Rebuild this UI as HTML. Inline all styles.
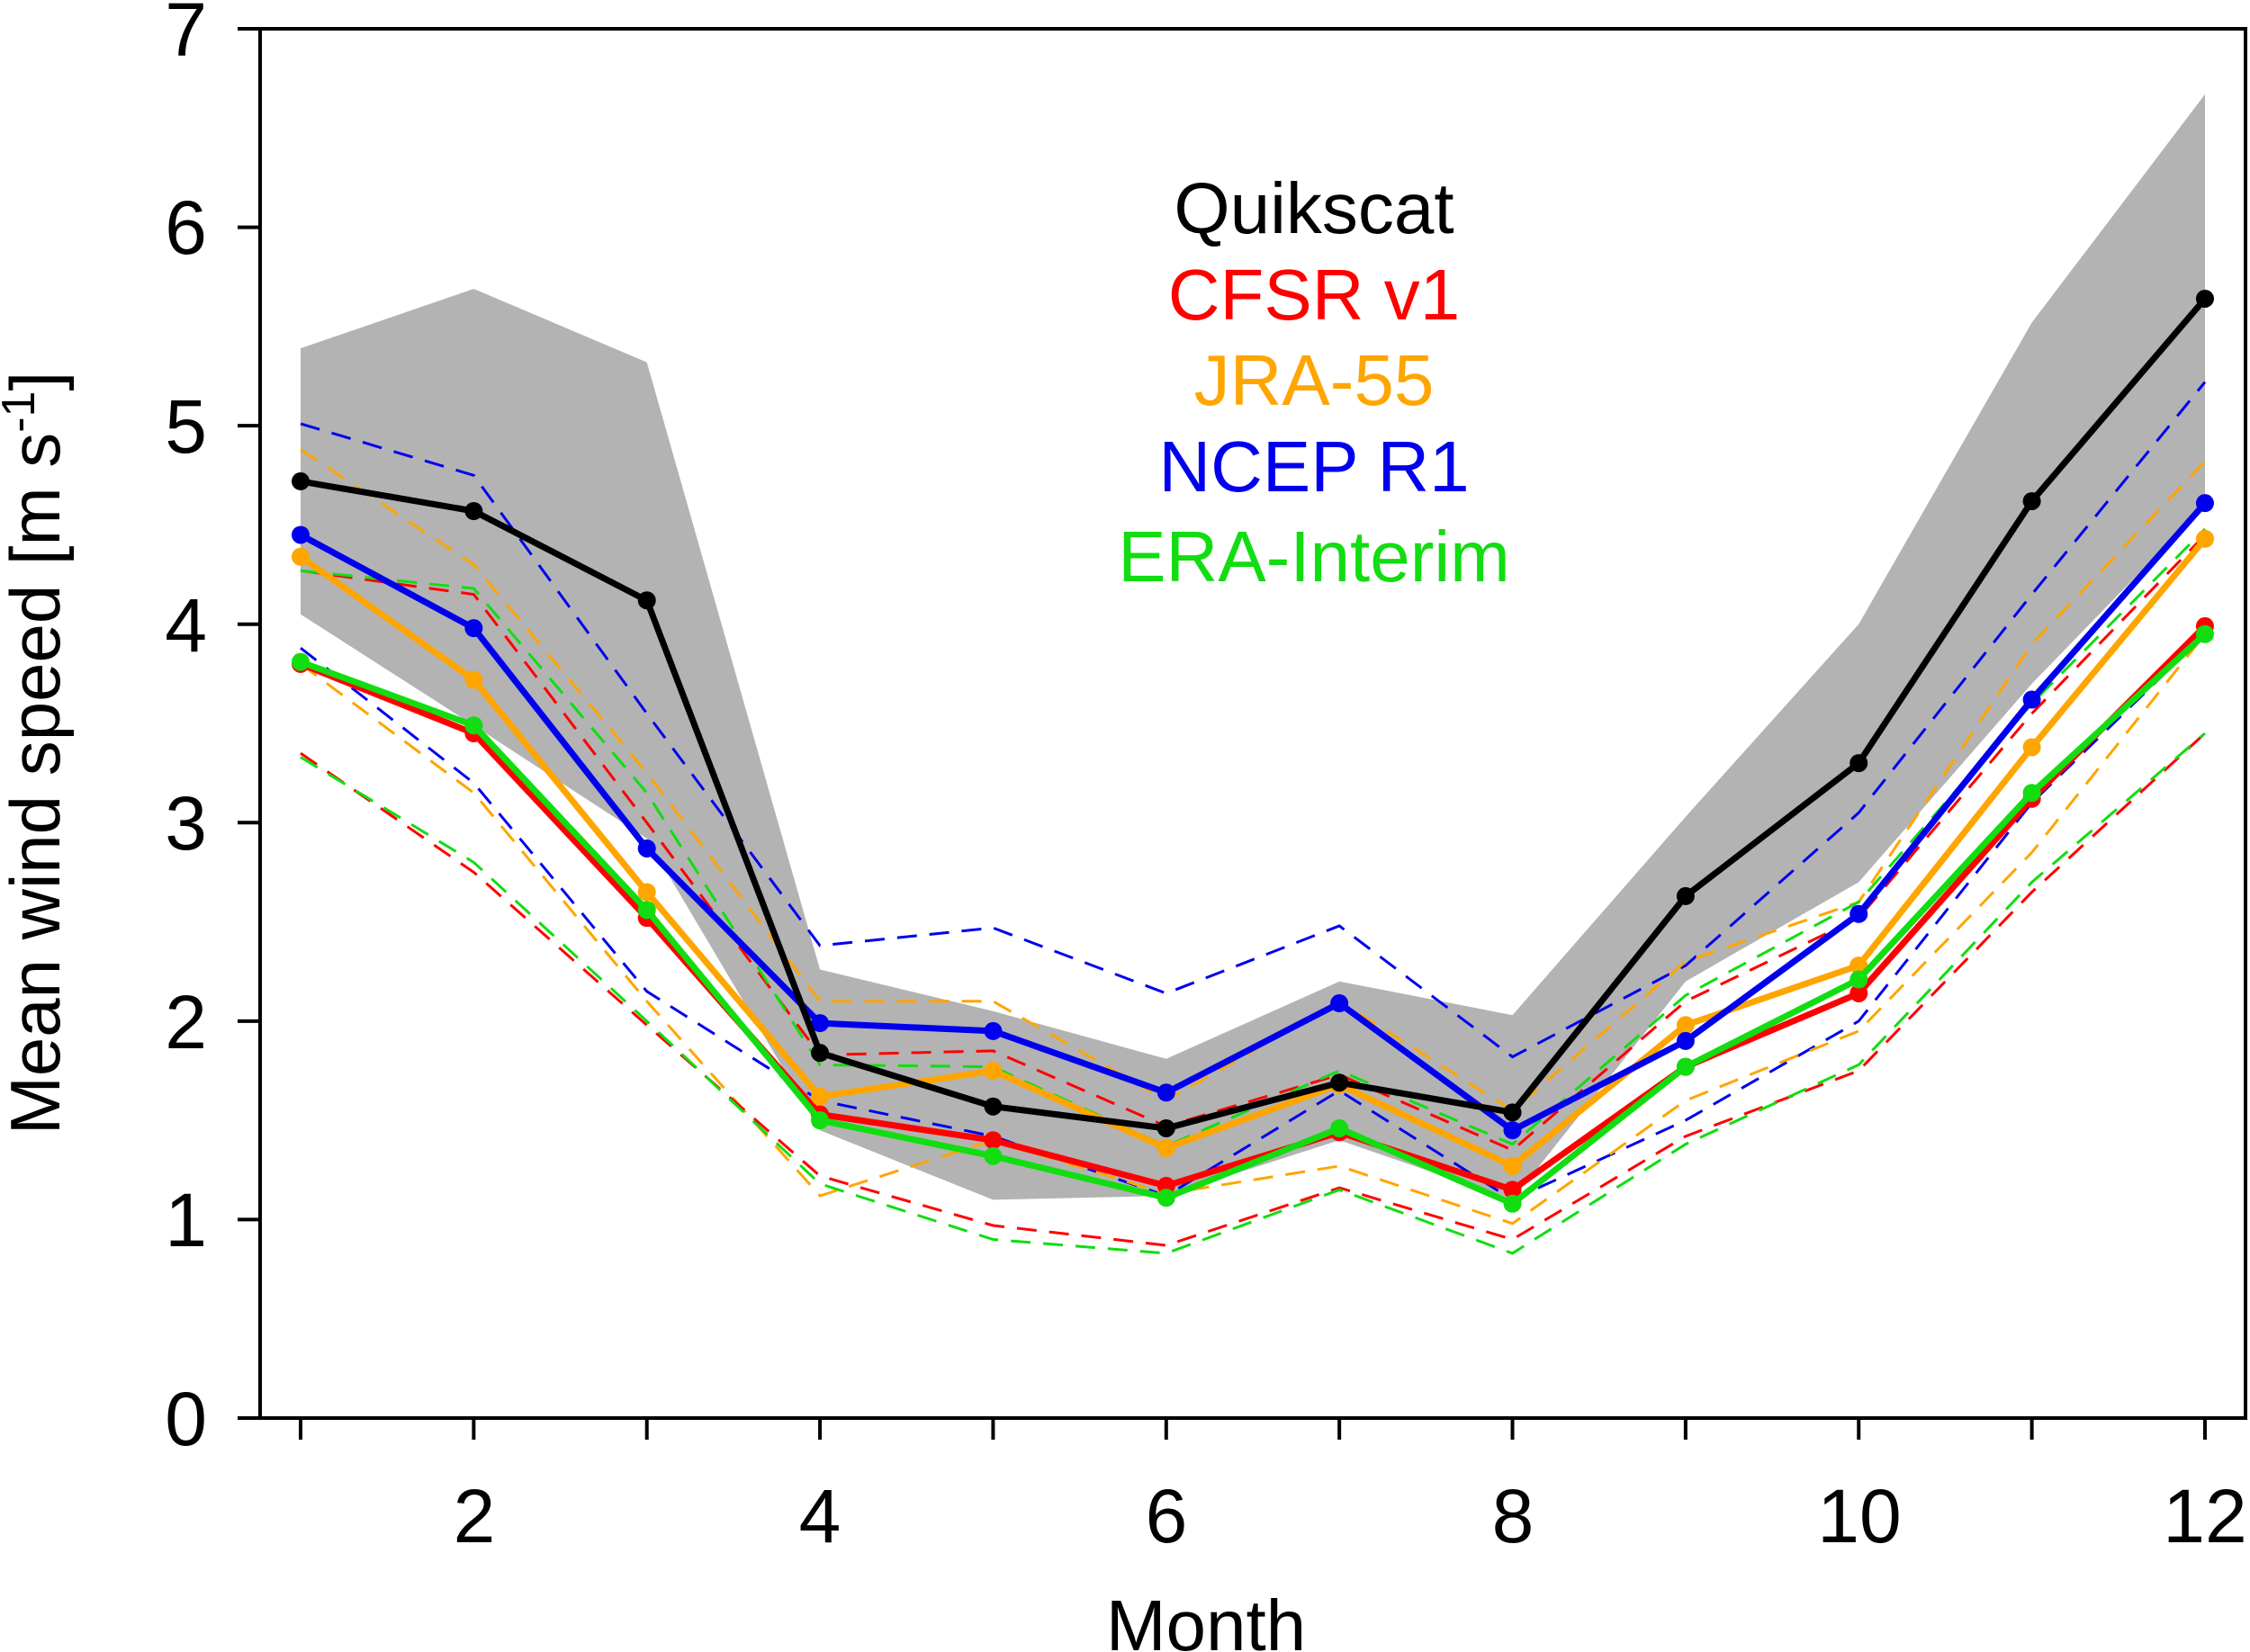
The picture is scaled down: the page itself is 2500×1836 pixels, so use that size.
<!DOCTYPE html>
<html><head><meta charset="utf-8"><style>
html,body{margin:0;padding:0;background:#fff;}
svg{display:block;font-family:"Liberation Sans",Arial,sans-serif;}
</style></head><body>
<svg id="s" width="2500" height="1836" viewBox="0 0 2500 1836" xmlns="http://www.w3.org/2000/svg">
<g id="plot"></g>
<rect x="289" y="32" width="2206" height="1544" fill="none" stroke="#000" stroke-width="4"/>
<g id="ticks" stroke="#000" stroke-width="4"></g>
<g font-size="84" text-anchor="end" fill="#000">
<text x="230" y="1606">0</text>
<text x="230" y="1385">1</text>
<text x="230" y="1165">2</text>
<text x="230" y="944">3</text>
<text x="230" y="724">4</text>
<text x="230" y="503">5</text>
<text x="230" y="282">6</text>
<text x="230" y="62">7</text>
</g>
<g font-size="84" text-anchor="middle" fill="#000">
<text x="527" y="1714">2</text>
<text x="911" y="1714">4</text>
<text x="1296" y="1714">6</text>
<text x="1681" y="1714">8</text>
<text x="2066" y="1714">10</text>
<text x="2450" y="1714">12</text>
</g>
<text x="1340" y="1834" font-size="80" text-anchor="middle">Month</text>
<text transform="translate(66,837) rotate(-90)" font-size="78" text-anchor="middle">Mean wind speed [m s<tspan dy="-28" font-size="52">-1</tspan><tspan dy="28">]</tspan></text>
<g font-size="80" text-anchor="middle">
<text x="1460" y="259" fill="#000">Quikscat</text>
<text x="1460" y="355" fill="#ff0000">CFSR v1</text>
<text x="1460" y="450" fill="#ffa500">JRA-55</text>
<text x="1460" y="546" fill="#0000ee">NCEP R1</text>
<text x="1460" y="646" fill="#11dd11">ERA-Interim</text>
</g>
</svg>
<script>
const X=m=>334+(m-1)*192.36, Y=v=>1576-v*220.57;
const P=a=>a.map((v,i)=>X(i+1).toFixed(1)+","+Y(v).toFixed(1)).join(" ");
const g=document.getElementById("plot");let h="";
const up=[5.39,5.69,5.32,2.26,2.05,1.81,2.20,2.03,3.03,4.00,5.52,6.67];
const lo=[4.05,3.49,2.92,1.45,1.10,1.12,1.40,1.10,2.2,2.7,3.7,4.6];
h+=`<polygon fill="#b3b3b3" points="${P(up)} ${lo.map((v,i)=>[i+1,v]).reverse().map(p=>X(p[0]).toFixed(1)+","+Y(p[1]).toFixed(1)).join(" ")}"/>`;
const C={r:"#ff0000",o:"#ffa500",b:"#0000ee",g:"#11dd11",k:"#000"};
const dash=[
["b",[5.01,4.75,3.55,2.38,2.47,2.14,2.48,1.82,2.28,3.05,4.15,5.22]],
["b",[3.88,3.2,2.15,1.6,1.42,1.12,1.65,1.1,1.5,2.0,3.1,3.95]],
["o",[4.88,4.3,3.25,2.1,2.1,1.6,2.1,1.55,2.3,2.6,3.9,4.82]],
["o",[3.8,3.15,2.1,1.12,1.4,1.13,1.27,0.98,1.6,1.95,2.85,3.95]],
["r",[4.27,4.15,3.0,1.83,1.85,1.47,1.73,1.35,2.1,2.52,3.55,4.45]],
["r",[3.35,2.75,1.98,1.22,0.97,0.87,1.16,0.9,1.42,1.75,2.65,3.45]],
["g",[4.27,4.18,3.15,1.78,1.77,1.37,1.75,1.38,2.13,2.6,3.6,4.48]],
["g",[3.33,2.8,2.0,1.18,0.9,0.83,1.15,0.83,1.38,1.78,2.7,3.45]]];
dash.forEach(d=>h+=`<polyline fill="none" stroke="${C[d[0]]}" stroke-width="3" stroke-dasharray="22,14" points="${P(d[1])}"/>`);
const sol=[
["r",[3.80,3.45,2.52,1.53,1.40,1.17,1.44,1.15,1.77,2.14,3.12,3.99]],
["o",[4.34,3.72,2.65,1.62,1.75,1.36,1.68,1.27,1.98,2.28,3.38,4.43]],
["b",[4.45,3.98,2.87,1.99,1.95,1.64,2.09,1.45,1.90,2.54,3.62,4.61]],
["g",[3.81,3.49,2.56,1.50,1.32,1.11,1.46,1.08,1.77,2.21,3.15,3.95]],
["k",[4.72,4.57,4.12,1.84,1.57,1.46,1.69,1.54,2.63,3.30,4.62,5.64]]];
sol.forEach(d=>{h+=`<polyline fill="none" stroke="${C[d[0]]}" stroke-width="7" stroke-linejoin="round" points="${P(d[1])}"/>`;
d[1].forEach((v,i)=>h+=`<circle cx="${X(i+1)}" cy="${Y(v)}" r="10" fill="${C[d[0]]}"/>`);});
g.innerHTML=h;
let t="";for(let v=0;v<=7;v++)t+=`<line x1="264" x2="289" y1="${Y(v)}" y2="${Y(v)}"/>`;
for(let m=1;m<=12;m++)t+=`<line x1="${X(m)}" x2="${X(m)}" y1="1576" y2="1600"/>`;
document.getElementById("ticks").innerHTML=t;
</script>
</body></html>
